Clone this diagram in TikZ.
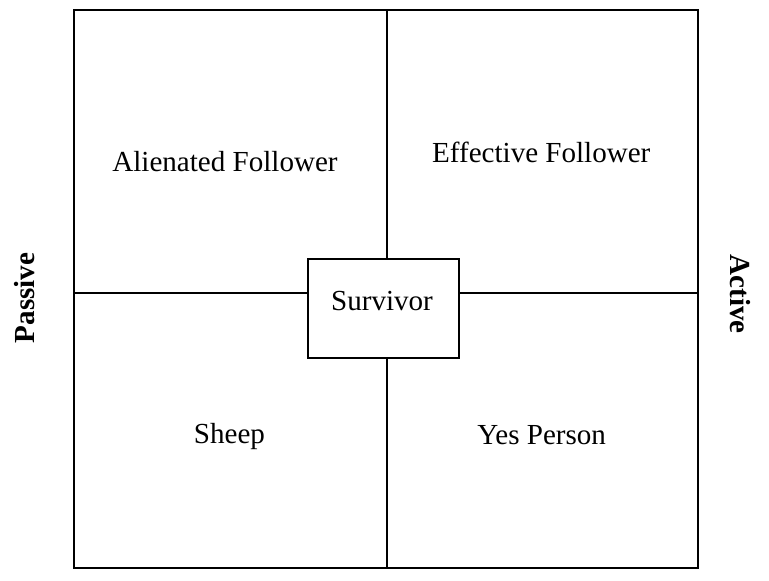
\documentclass[tikz,border=0pt]{standalone}
\usepackage{fontspec}
\setmainfont{Liberation Serif}
\begin{document}
\begin{tikzpicture}[x=0.75pt,y=-0.75pt,
  lbl/.style={anchor=base,inner sep=0pt,font=\fontsize{21.8}{26}\selectfont},
  axis/.style={inner sep=0pt,font=\fontsize{21.8}{26}\selectfont\bfseries},
  ln/.style={line width=1.5pt}]
\useasboundingbox (0,0) rectangle (769,581);
\coordinate (tl) at (74,10);
\coordinate (br) at (697.5,568);
\coordinate (vt) at (386.5,10);
\coordinate (vb) at (386.5,568);
\coordinate (hl) at (74,293.5);
\coordinate (hr) at (697.5,293.5);
\draw[ln] (tl) rectangle (br);
\draw[ln] (vt) -- (vb);
\draw[ln] (hl) -- (hr);
\node[draw,ln,fill=white,minimum width=113.25pt,minimum height=74.25pt,inner sep=0pt,anchor=north west] (surv) at (306.5,258.5) {};
\node[lbl] (survt) at (382,311) {Survivor};
\node[lbl] (alien) at (225,171.7) {Alienated Follower};
\node[lbl] (eff) at (541.3,162.7) {Effective Follower};
\node[lbl] (sheep) at (229.5,444) {Sheep};
\node[lbl] (yes) at (541.7,445) {Yes Person};
\node[axis,rotate=90] (pass) at (25,298) {Passive};
\node[axis,rotate=-90] (act) at (740.5,294) {Active};
\end{tikzpicture}
\end{document}
